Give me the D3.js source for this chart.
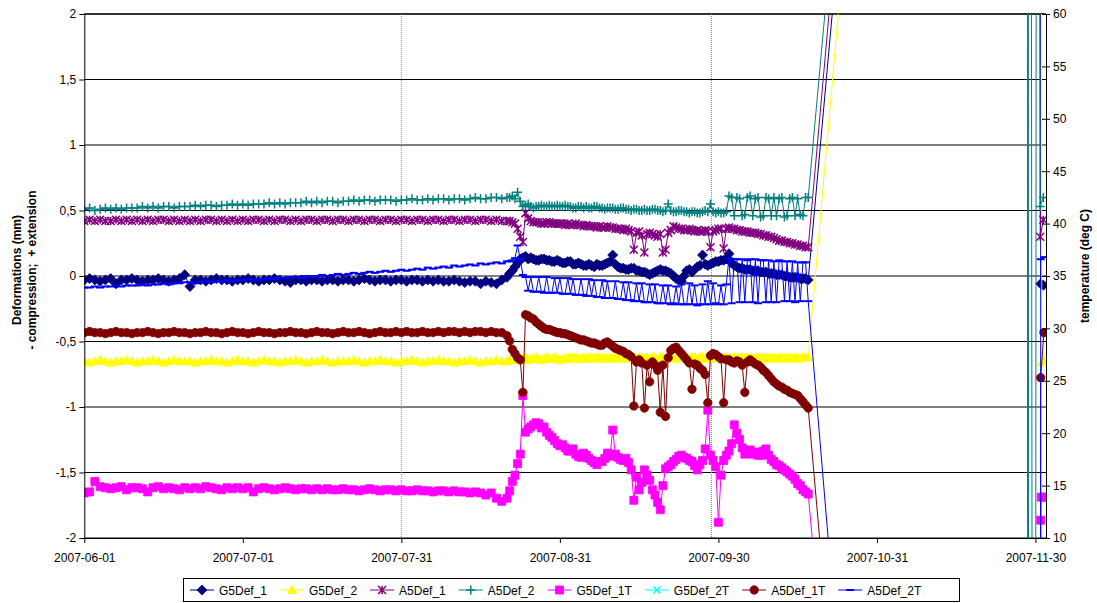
<!DOCTYPE html>
<html><head><meta charset="utf-8">
<script src="https://cdn.jsdelivr.net/npm/d3@7"></script>
<style>
body{margin:0;background:#fff;}
svg{display:block;font-family:"Liberation Sans",Arial,sans-serif;}
</style></head><body>
<svg id="chart" width="1097" height="603"></svg>
<script>
// ---------- DATA ----------
// x = day number counted from 2007-06-01
const xTickDays = [0, 30, 60, 90, 120, 150, 180];
const xTickLabels = ["2007-06-01","2007-07-01","2007-07-31","2007-08-31","2007-09-30","2007-10-31","2007-11-30"];
const leftTicks = [2, 1.5, 1, 0.5, 0, -0.5, -1, -1.5, -2];
const rightTicks = [60, 55, 50, 45, 40, 35, 30, 25, 20, 15, 10];
const eventDays = [60, 118.7];
const seriesNames = ["G5Def_1","G5Def_2","A5Def_1","A5Def_2","G5Def_1T","G5Def_2T","A5Def_1T","A5Def_2T"];
const dailyStart = 0;     // daily readings: days 0..79
const lateStart = 80;     // half-day readings: days 80..137
const lateStep = 0.5;

// ---- deformations (mm), left axis ----
const G5Def_1 = [
-0.03,-0.02,-0.03,-0.04,-0.03,-0.02,-0.06,-0.03,-0.03,-0.02,
-0.03,-0.04,-0.03,-0.03,-0.02,-0.03,-0.04,-0.03,-0.02,0.01,
-0.08,-0.03,-0.03,-0.04,-0.03,-0.02,-0.03,-0.03,-0.04,-0.03,
-0.03,-0.02,-0.03,-0.04,-0.03,-0.03,-0.02,-0.03,-0.04,-0.05,
-0.03,-0.03,-0.04,-0.03,-0.03,-0.04,-0.03,-0.03,-0.04,-0.03,
-0.03,-0.04,-0.03,-0.02,-0.03,-0.04,-0.03,-0.03,-0.04,-0.03,
-0.03,-0.04,-0.03,-0.03,-0.04,-0.03,-0.04,-0.03,-0.04,-0.04,
-0.03,-0.04,-0.05,-0.04,-0.04,-0.06,-0.04,-0.05,-0.06,-0.03];
const G5Def_1_late = [
-0.01,0.02,0.04,0.07,0.10,0.13,0.14,0.15,0.13,0.14,
0.13,0.12,0.12,0.13,0.13,0.12,0.12,0.11,0.11,0.12,
0.11,0.10,0.10,0.11,0.11,0.09,0.09,0.10,0.09,0.08,
0.08,0.09,0.08,0.07,0.09,0.08,0.08,0.09,0.10,0.11,
0.16,0.09,0.07,0.06,0.06,0.05,0.05,0.06,0.06,0.04,
0.04,0.03,0.03,0.02,0.01,0.02,0.03,0.04,0.05,0.04,
0.04,0.03,0.02,0.00,-0.02,-0.03,-0.04,0.00,0.04,0.05,
0.03,0.05,0.07,0.08,0.16,0.09,0.08,0.09,0.10,0.11,
0.11,0.12,0.12,0.13,0.17,0.10,0.08,0.07,0.06,0.06,
0.05,0.05,0.05,0.04,0.04,0.04,0.03,0.03,0.03,0.02,
0.02,0.02,0.01,0.01,0.01,0.00,0.00,-0.01,-0.01,-0.01,
-0.01,-0.02,-0.02,-0.02,-0.03];
const G5Def_2 = [
-0.65,-0.66,-0.65,-0.64,-0.65,-0.66,-0.65,-0.65,-0.64,-0.65,
-0.66,-0.65,-0.65,-0.64,-0.65,-0.66,-0.65,-0.64,-0.65,-0.65,
-0.65,-0.66,-0.65,-0.65,-0.64,-0.65,-0.65,-0.66,-0.65,-0.64,
-0.65,-0.65,-0.66,-0.65,-0.64,-0.65,-0.65,-0.66,-0.65,-0.65,
-0.64,-0.65,-0.66,-0.65,-0.65,-0.64,-0.65,-0.66,-0.65,-0.65,
-0.65,-0.64,-0.65,-0.66,-0.65,-0.65,-0.64,-0.65,-0.65,-0.66,
-0.65,-0.65,-0.64,-0.65,-0.66,-0.65,-0.65,-0.64,-0.65,-0.65,
-0.66,-0.65,-0.65,-0.64,-0.65,-0.66,-0.65,-0.65,-0.64,-0.65];
const G5Def_2_late = [
-0.65,-0.64,-0.64,-0.63,-0.64,-0.63,-0.63,-0.62,-0.64,-0.63,
-0.63,-0.62,-0.63,-0.64,-0.63,-0.62,-0.63,-0.63,-0.62,-0.63,
-0.64,-0.63,-0.63,-0.62,-0.63,-0.62,-0.62,-0.63,-0.63,-0.62,
-0.63,-0.62,-0.62,-0.63,-0.62,-0.62,-0.63,-0.62,-0.63,-0.62,
-0.63,-0.62,-0.62,-0.63,-0.62,-0.62,-0.63,-0.62,-0.62,-0.63,
-0.62,-0.62,-0.63,-0.62,-0.63,-0.62,-0.62,-0.63,-0.62,-0.62,
-0.63,-0.62,-0.62,-0.63,-0.62,-0.62,-0.63,-0.62,-0.62,-0.63,
-0.62,-0.62,-0.63,-0.62,-0.62,-0.63,-0.62,-0.62,-0.63,-0.62,
-0.62,-0.63,-0.62,-0.62,-0.63,-0.62,-0.62,-0.63,-0.62,-0.62,
-0.63,-0.62,-0.62,-0.63,-0.62,-0.62,-0.63,-0.62,-0.62,-0.63,
-0.62,-0.62,-0.63,-0.62,-0.62,-0.63,-0.62,-0.62,-0.63,-0.62,
-0.62,-0.63,-0.62,-0.62,-0.62];
const A5Def_1 = [
0.42,0.43,0.42,0.43,0.42,0.42,0.43,0.42,0.43,0.42,
0.43,0.42,0.43,0.42,0.43,0.43,0.42,0.43,0.42,0.43,
0.42,0.43,0.42,0.43,0.43,0.42,0.43,0.42,0.43,0.42,
0.43,0.42,0.43,0.43,0.42,0.43,0.42,0.43,0.43,0.42,
0.43,0.42,0.43,0.43,0.42,0.43,0.43,0.42,0.43,0.43,
0.42,0.43,0.43,0.42,0.43,0.43,0.42,0.43,0.43,0.42,
0.43,0.43,0.42,0.43,0.43,0.42,0.43,0.43,0.42,0.43,
0.43,0.42,0.43,0.43,0.42,0.43,0.43,0.42,0.43,0.42];
const A5Def_1_late = [
0.42,0.42,0.41,0.40,0.36,0.30,0.26,0.48,0.44,0.42,
0.41,0.41,0.41,0.40,0.40,0.41,0.41,0.40,0.40,0.40,
0.40,0.40,0.39,0.40,0.39,0.39,0.40,0.39,0.39,0.38,
0.39,0.38,0.38,0.38,0.37,0.38,0.37,0.37,0.38,0.37,
0.37,0.36,0.36,0.36,0.35,0.36,0.35,0.34,0.20,0.33,
0.34,0.31,0.18,0.32,0.33,0.32,0.31,0.30,0.32,0.18,
0.20,0.33,0.35,0.38,0.37,0.36,0.36,0.35,0.35,0.36,
0.35,0.34,0.35,0.34,0.34,0.35,0.34,0.22,0.34,0.35,
0.36,0.36,0.21,0.36,0.37,0.36,0.36,0.35,0.35,0.34,
0.34,0.34,0.33,0.33,0.33,0.32,0.32,0.31,0.31,0.30,
0.30,0.29,0.28,0.27,0.27,0.26,0.26,0.25,0.25,0.24,
0.24,0.23,0.23,0.22,0.22];
const A5Def_2 = [
0.51,0.52,0.50,0.51,0.52,0.51,0.52,0.51,0.52,0.52,
0.52,0.53,0.52,0.53,0.52,0.53,0.53,0.52,0.53,0.53,
0.53,0.54,0.53,0.54,0.54,0.53,0.54,0.54,0.55,0.54,
0.55,0.54,0.55,0.55,0.55,0.56,0.55,0.56,0.55,0.56,
0.56,0.56,0.57,0.56,0.57,0.56,0.57,0.57,0.56,0.57,
0.57,0.58,0.57,0.58,0.58,0.57,0.58,0.58,0.58,0.57,
0.58,0.58,0.59,0.58,0.58,0.59,0.58,0.59,0.59,0.58,
0.59,0.59,0.58,0.59,0.60,0.59,0.59,0.60,0.60,0.59];
const A5Def_2_late = [
0.60,0.60,0.61,0.59,0.64,0.57,0.53,0.54,0.55,0.53,
0.52,0.53,0.53,0.54,0.53,0.53,0.54,0.53,0.53,0.54,
0.53,0.53,0.54,0.53,0.53,0.52,0.52,0.53,0.53,0.52,
0.53,0.52,0.52,0.53,0.53,0.52,0.52,0.51,0.52,0.52,
0.52,0.51,0.51,0.52,0.52,0.51,0.51,0.50,0.51,0.51,
0.50,0.50,0.51,0.50,0.50,0.51,0.51,0.50,0.50,0.49,
0.50,0.55,0.50,0.49,0.49,0.50,0.50,0.49,0.49,0.48,
0.49,0.49,0.48,0.48,0.49,0.50,0.49,0.55,0.49,0.48,
0.49,0.48,0.48,0.49,0.61,0.60,0.46,0.60,0.59,0.46,
0.47,0.60,0.61,0.46,0.59,0.60,0.45,0.46,0.60,0.59,
0.46,0.60,0.46,0.59,0.60,0.45,0.46,0.59,0.60,0.46,
0.59,0.47,0.46,0.60,0.60];

// ---- temperatures (deg C), right axis ----
const G5Def_1T = [
14.3,14.4,15.4,14.9,14.8,14.7,14.8,14.9,14.6,14.8,
14.8,14.7,14.4,14.8,14.9,14.7,14.8,14.7,14.6,14.8,
14.7,14.8,14.7,14.9,14.8,14.7,14.6,14.8,14.7,14.8,
14.7,14.8,14.4,14.7,14.8,14.7,14.6,14.7,14.8,14.7,
14.6,14.7,14.7,14.6,14.7,14.6,14.7,14.6,14.6,14.7,
14.6,14.6,14.5,14.6,14.7,14.6,14.5,14.6,14.6,14.5,
14.6,14.5,14.5,14.6,14.5,14.5,14.4,14.5,14.5,14.4,
14.5,14.4,14.4,14.3,14.4,14.3,14.1,14.3,13.8,13.5];
const G5Def_1T_late = [
13.8,14.5,15.4,16.0,17.1,18.0,23.6,20.1,20.4,20.6,
20.8,21.0,20.9,20.5,20.6,20.1,19.8,19.6,19.3,19.0,
18.8,18.9,18.6,18.3,18.3,18.5,18.0,17.8,17.7,18.1,
17.9,17.6,17.4,17.2,17.0,17.3,17.3,17.6,18.1,17.8,
20.3,18.0,17.7,17.5,17.4,17.6,17.2,16.5,13.6,15.8,
14.6,15.3,16.5,16.0,15.5,14.6,14.1,13.4,12.7,15.0,
16.6,16.8,17.0,17.3,17.5,17.8,17.9,17.7,17.6,17.4,
17.3,16.9,16.5,17.0,17.4,18.5,22.2,17.9,17.4,16.8,
11.5,16.0,17.4,17.9,18.3,19.0,20.8,20.0,19.4,18.6,
18.0,18.2,18.4,18.0,18.2,17.9,17.9,18.3,18.5,17.9,
17.5,17.3,17.0,16.9,16.7,16.5,16.3,16.1,15.9,15.6,
15.2,15.0,14.6,14.4,14.2];
const G5Def_2T = [];
const G5Def_2T_late = [];
const A5Def_1T = [
29.6,29.7,29.6,29.6,29.5,29.6,29.7,29.6,29.6,29.5,
29.6,29.6,29.7,29.6,29.5,29.6,29.6,29.7,29.6,29.6,
29.5,29.6,29.6,29.7,29.6,29.6,29.5,29.6,29.7,29.6,
29.6,29.5,29.6,29.7,29.6,29.6,29.5,29.6,29.6,29.7,
29.6,29.6,29.5,29.6,29.7,29.6,29.6,29.5,29.6,29.7,
29.6,29.6,29.7,29.6,29.5,29.6,29.7,29.6,29.6,29.7,
29.6,29.7,29.6,29.6,29.7,29.6,29.6,29.7,29.6,29.7,
29.7,29.6,29.7,29.6,29.7,29.7,29.6,29.7,29.6,29.6];
const A5Def_1T_late = [
29.3,28.8,28.0,27.6,27.2,27.0,23.9,31.3,31.2,31.0,
30.9,30.6,30.4,30.2,30.0,29.9,29.9,29.8,29.7,29.6,
29.6,29.5,29.5,29.4,29.3,29.2,29.1,29.0,28.9,28.9,
28.8,28.7,28.6,28.6,28.5,28.4,28.4,28.6,28.7,28.5,
28.3,28.1,28.0,27.9,27.8,27.6,27.5,27.3,22.6,26.8,
27.0,26.7,22.4,26.5,24.9,26.8,26.5,26.0,22.0,26.5,
21.6,27.2,27.9,28.1,28.2,27.9,27.6,27.3,27.0,26.7,
24.2,26.6,26.5,26.2,26.0,25.6,22.9,27.4,27.6,27.5,
27.3,27.1,22.9,27.0,27.0,26.8,26.7,26.9,26.8,26.5,
23.9,26.8,27.0,26.8,26.6,26.5,26.3,26.0,25.8,25.5,
25.2,24.9,24.7,24.5,24.4,24.2,24.1,23.9,23.8,23.7,
23.6,23.3,23.0,22.7,22.4];
const A5Def_2T = [
33.9,33.9,34.0,33.9,34.0,34.0,34.1,34.0,34.1,34.1,
34.1,34.2,34.1,34.2,34.2,34.3,34.2,34.3,34.3,34.4,
34.4,34.3,34.4,34.5,34.4,34.5,34.5,34.6,34.5,34.6,
34.6,34.7,34.6,34.7,34.7,34.8,34.7,34.8,34.8,34.9,
34.9,34.8,35.0,34.9,35.0,35.1,35.0,35.1,35.2,35.1,
35.2,35.3,35.2,35.3,35.4,35.3,35.4,35.5,35.4,35.5,
35.6,35.5,35.6,35.7,35.6,35.8,35.7,35.8,35.9,35.8,
36.0,35.9,36.0,36.1,36.0,36.2,36.1,36.2,36.3,36.2];
const A5Def_2T_late = [
36.4,36.4,36.5,36.7,37.9,36.6,35.1,34.9,33.6,34.9,
33.5,33.5,34.9,33.5,33.4,34.9,33.4,33.4,34.8,33.4,
34.8,33.3,33.3,34.8,33.3,34.7,33.2,33.2,34.7,33.2,
33.1,34.7,33.1,34.6,33.0,33.0,34.6,32.9,34.5,32.9,
32.9,34.5,32.8,32.8,34.4,32.7,34.4,32.7,32.6,34.3,
32.6,34.3,32.5,32.5,34.2,32.5,34.2,32.4,32.4,34.1,
32.4,34.1,32.3,32.4,34.0,32.3,34.2,32.3,32.3,34.3,
32.3,34.1,32.2,32.3,34.2,32.3,34.5,32.3,34.3,32.4,
32.3,34.1,32.3,34.2,36.7,32.4,36.6,36.6,32.5,36.6,
32.5,36.5,36.6,32.5,36.6,32.4,36.5,36.5,32.5,36.5,
32.5,36.4,32.5,36.5,36.4,32.6,36.4,32.6,36.4,32.5,
36.3,32.6,36.3,36.3,32.6];

// ---- readings after the data gap (day, value), incl. off-scale faulty readings ----
const tailDays_G5Def_1 = [180.7, 181.0, 181.5];
const tailVals_G5Def_1 = [19.5, -0.06, -0.07];
const tailDays_G5Def_2 = [180.9, 181.2, 181.6];
const tailVals_G5Def_2 = [19.6, -0.66, -0.64];
const tailDays_A5Def_1 = [180.7, 180.9, 181.5];
const tailVals_A5Def_1 = [20, 0.30, 0.43];
const tailDays_A5Def_2 = [178.4, 178.6, 178.8, 179.8, 180.4, 180.9, 181.5];
const tailVals_A5Def_2 = [19, -19, 19, -19, 19, 0.53, 0.60];
const tailDays_G5Def_1T = [180.9, 181.0, 181.1, 181.7];
const tailVals_G5Def_1T = [-230, 11.7, 13.9, 13.9];
const tailDays_G5Def_2T = [];
const tailVals_G5Def_2T = [];
const tailDays_A5Def_1T = [180.9, 181.0, 181.6];
const tailVals_A5Def_1T = [-230, 25.3, 29.6];
const tailDays_A5Def_2T = [180.8, 181.0, 181.7];
const tailVals_A5Def_2T = [-230, 36.6, 36.8];

// ---------- STYLE / LAYOUT ----------
const plot = {left: 84.3, right: 1046, top: 14, bottom: 538};
const styles = {
  G5Def_1:  {color:"#000080", marker:"diamond", axis:"L"},
  G5Def_2:  {color:"#FFFF00", marker:"triangle", axis:"L"},
  A5Def_1:  {color:"#800080", marker:"asterisk", axis:"L"},
  A5Def_2:  {color:"#008080", marker:"plus", axis:"L"},
  G5Def_1T: {color:"#FF00FF", marker:"square", axis:"R"},
  G5Def_2T: {color:"#00FFFF", marker:"x", axis:"R"},
  A5Def_1T: {color:"#800000", marker:"circle", axis:"R"},
  A5Def_2T: {color:"#0000FF", marker:"dash", axis:"R"}
};
const dataByName = {
  G5Def_1:[G5Def_1,G5Def_1_late,tailDays_G5Def_1,tailVals_G5Def_1],
  G5Def_2:[G5Def_2,G5Def_2_late,tailDays_G5Def_2,tailVals_G5Def_2],
  A5Def_1:[A5Def_1,A5Def_1_late,tailDays_A5Def_1,tailVals_A5Def_1],
  A5Def_2:[A5Def_2,A5Def_2_late,tailDays_A5Def_2,tailVals_A5Def_2],
  G5Def_1T:[G5Def_1T,G5Def_1T_late,tailDays_G5Def_1T,tailVals_G5Def_1T],
  G5Def_2T:[G5Def_2T,G5Def_2T_late,tailDays_G5Def_2T,tailVals_G5Def_2T],
  A5Def_1T:[A5Def_1T,A5Def_1T_late,tailDays_A5Def_1T,tailVals_A5Def_1T],
  A5Def_2T:[A5Def_2T,A5Def_2T_late,tailDays_A5Def_2T,tailVals_A5Def_2T]
};

const svg = d3.select("#chart");
const x = d3.scaleLinear().domain([0, 182]).range([plot.left, plot.right]);
const yL = d3.scaleLinear().domain([-2, 2]).range([plot.bottom, plot.top]);
const yR = d3.scaleLinear().domain([10, 60]).range([plot.bottom, plot.top]);

function markerPath(type) {
  switch (type) {
    case "diamond": { const r = 5; return `M0,${-r}L${r},0L0,${r}L${-r},0Z`; }
    case "triangle": { const r = 4.5; return `M0,${-r}L${r},${r*0.8}L${-r},${r*0.8}Z`; }
    case "square": { const r = 4; return `M${-r},${-r}h${2*r}v${2*r}h${-2*r}Z`; }
    case "circle": { const r = 4.2; return `M${r},0A${r},${r} 0 1,1 ${-r},0A${r},${r} 0 1,1 ${r},0Z`; }
    case "plus": { const r = 4.5; return `M${-r},0H${r}M0,${-r}V${r}`; }
    case "asterisk": { const r = 4; return `M${-r},${-r}L${r},${r}M${-r},${r}L${r},${-r}M0,${-r}V${r}`; }
    case "x": { const r = 3.5; return `M${-r},${-r}L${r},${r}M${-r},${r}L${r},${-r}`; }
    case "dash": { const r = 4; return `M${-r},0H${r}`; }
  }
}
const filled = {diamond:true, triangle:true, square:true, circle:true};
function styleMarker(sel, st) {
  const f = filled[st.marker];
  sel.attr("d", markerPath(st.marker))
     .attr("fill", f ? st.color : "none")
     .attr("stroke", st.color)
     .attr("stroke-width", st.marker === "dash" ? 2 : (f ? 0.8 : 1.5));
}

svg.append("defs").append("clipPath").attr("id","plotclip")
  .append("rect").attr("x", plot.left).attr("y", plot.top)
  .attr("width", plot.right - plot.left).attr("height", plot.bottom - plot.top);

// gridlines
svg.append("g").selectAll("line").data(leftTicks).join("line")
  .attr("x1", plot.left).attr("x2", plot.right)
  .attr("y1", d => yL(d)).attr("y2", d => yL(d))
  .attr("stroke", d => d === 2 ? "#333" : "#000")
  .attr("stroke-width", d => d === 2 ? 2 : 1);

// event lines
svg.append("g").selectAll("line").data(eventDays).join("line")
  .attr("x1", d => x(d)).attr("x2", d => x(d))
  .attr("y1", plot.top).attr("y2", plot.bottom)
  .attr("stroke", "#888").attr("stroke-width", 1)
  .attr("stroke-dasharray", "1,1");

// series
const gS = svg.append("g").attr("clip-path", "url(#plotclip)");
seriesNames.forEach(name => {
  const st = styles[name];
  const [daily, late, tD, tV] = dataByName[name];
  const yS = st.axis === "L" ? yL : yR;
  const pts = daily.map((v, i) => ({d: dailyStart + i, v}))
    .concat(late.map((v, i) => ({d: lateStart + i * lateStep, v})))
    .concat(tD.map((d, i) => ({d, v: tV[i]})));
  if (!pts.length) return;
  const g = gS.append("g");
  g.append("path").datum(pts)
    .attr("d", d3.line().x(p => x(p.d)).y(p => yS(p.v)))
    .attr("fill", "none").attr("stroke", st.color).attr("stroke-width", 1);
  g.selectAll("path.m").data(pts.filter(p => Math.abs(yS(p.v)) < 2000)).join("path")
    .attr("class", "m")
    .attr("transform", p => `translate(${x(p.d)},${yS(p.v)})`)
    .call(styleMarker, st);
});

// axes
const fmtL = d => String(d).replace(".", ",");
const axL = svg.append("g").attr("transform", `translate(${plot.left},0)`)
  .call(d3.axisLeft(yL).tickValues(leftTicks).tickFormat(fmtL).tickSizeInner(5).tickSizeOuter(0).tickPadding(3));
const axR = svg.append("g").attr("transform", `translate(${plot.right},0)`)
  .call(d3.axisRight(yR).tickValues(rightTicks).tickSizeInner(4).tickSizeOuter(0).tickPadding(3));
axR.selectAll(".tick line").attr("x1", -4);
const axB = svg.append("g").attr("transform", `translate(0,${plot.bottom})`)
  .call(d3.axisBottom(x).tickValues(xTickDays).tickFormat((d, i) => xTickLabels[i]).tickSizeInner(5).tickSizeOuter(0).tickPadding(10));
[axL, axR, axB].forEach(a => {
  a.selectAll("text").attr("font-size", 12).attr("fill", "#000")
    .attr("font-family", '"Liberation Sans", Arial, sans-serif');
  a.selectAll("line,path").attr("stroke", "#000");
});

// axis titles
const tL = svg.append("text").attr("transform", "translate(21,270) rotate(-90)")
  .attr("text-anchor", "middle").attr("font-size", 12).attr("font-weight", "bold");
tL.append("tspan").attr("x", 0).attr("dy", 0).text("Deformations (mm)");
tL.append("tspan").attr("x", 0).attr("dy", 15).attr("xml:space","preserve").text("- compression;  + extension");
svg.append("text").attr("transform", "translate(1089,266) rotate(-90)")
  .attr("text-anchor", "middle").attr("font-size", 12).attr("font-weight", "bold")
  .text("temperature (deg C)");

// legend
const lg = svg.append("g");
lg.append("rect").attr("x", 183.5).attr("y", 578.5).attr("width", 776).attr("height", 23)
  .attr("fill", "#fff").attr("stroke", "#000").attr("stroke-width", 1);
let tx = 219;
const ly = 590;
seriesNames.forEach(name => {
  const st = styles[name];
  lg.append("line").attr("x1", tx - 29).attr("x2", tx - 5).attr("y1", ly).attr("y2", ly)
    .attr("stroke", st.color).attr("stroke-width", 1);
  lg.append("path").attr("transform", `translate(${tx - 17},${ly})`).call(styleMarker, st);
  const t = lg.append("text").attr("x", tx).attr("y", ly + 4.5).attr("font-size", 12).text(name);
  tx += t.node().getComputedTextLength() + 42;
});
</script>
</body></html>
